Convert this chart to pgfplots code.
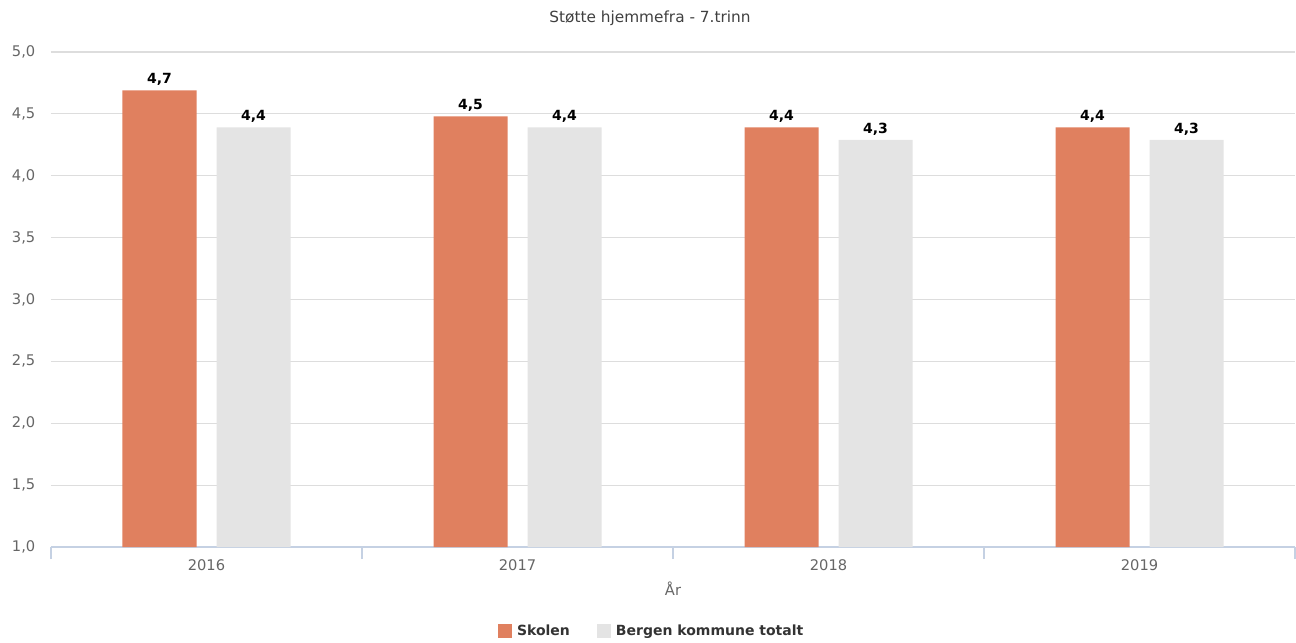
\documentclass[border=0pt]{standalone}
\usepackage{fontspec}
\setmainfont{DejaVu Sans}
\usepackage{pgfplots}
\pgfplotsset{compat=1.18}
\definecolor{skolen}{HTML}{E0805F}
\definecolor{bergen}{HTML}{E4E4E4}
\definecolor{gridc}{HTML}{DDDDDD}
\definecolor{axc}{HTML}{C5D1E3}
\definecolor{tickc}{HTML}{666666}
\begin{document}
\begin{tikzpicture}[x=1pt,y=1pt]
\begin{axis}[
  scale only axis,
  width=933pt, height=371.25pt,
  xmin=-0.5, xmax=3.5, ymin=1, ymax=5,
  ybar=15pt, bar width=55.5pt,
  axis x line*=bottom, axis y line*=left,
  x axis line style={draw=axc, line width=0.8pt},
  y axis line style={draw=none},
  ytick={1,1.5,...,5},
  ymajorgrids, grid style={draw=gridc, line width=0.8pt},
  ytick style={draw=none},
  xtick={0,1,2,3},
  xticklabels={2016,2017,2018,2019},
  minor xtick={-0.5,0.5,1.5,2.5,3.5},
  xtick style={draw=none},
  minor tick length=9pt,
  tick align=outside,
  minor x tick style={draw=axc, line width=0.8pt},
  /pgf/number format/assume math mode=true,
  /pgf/number format/.cd, fixed, fixed zerofill, precision=1, use comma,
  /pgfplots/.cd,
  ticklabel style={font=\fontsize{11}{13}\selectfont, text=tickc},
  yticklabel style={xshift=-4pt},
  xticklabel style={yshift=-2pt},
  xlabel={År},
  xlabel style={font=\fontsize{11}{13}\selectfont, text=tickc, yshift=-1pt},
  title={Støtte hjemmefra - 7.trinn},
  title style={font=\fontsize{11.5}{13}\selectfont, text=black!75, at={(0.4815,1)}, anchor=center, yshift=19pt},
  nodes near coords,
  nodes near coords style={font=\bfseries\fontsize{10.5}{12}\selectfont, text=black, /pgf/number format/.cd, fixed, fixed zerofill, precision=1, use comma, assume math mode=true},
  legend style={at={(0.483,-0.17)}, anchor=center, draw=none, legend columns=2,
    font=\bfseries\fontsize{10.5}{12}\selectfont, text=black!80,
    /tikz/every odd column/.append style={column sep=2pt},
    /tikz/every even column/.append style={column sep=18pt}},
  legend image code/.code={\fill[#1] (0pt,-5.25pt) rectangle (10.5pt,5.25pt);},
]
\addplot[fill=skolen, draw=none] coordinates {(0,4.69) (1,4.48) (2,4.39) (3,4.39)};
\addlegendentry{Skolen}
\addplot[fill=bergen, draw=none] coordinates {(0,4.39) (1,4.39) (2,4.29) (3,4.29)};
\addlegendentry{Bergen kommune totalt}
\end{axis}
\path (current axis.south west) ++(-38.25pt,-71.25pt) coordinate (bl);
\path (current axis.north east) ++(0.75pt,39pt) coordinate (tr);
\path[use as bounding box] (bl) rectangle (tr);
\end{tikzpicture}
\end{document}
